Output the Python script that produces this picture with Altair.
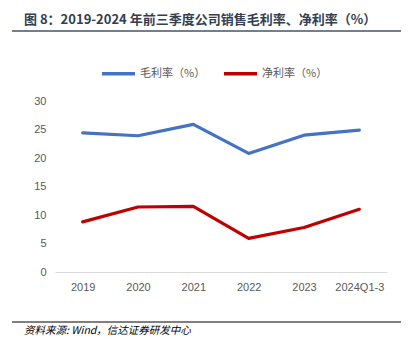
import altair as alt
import pandas as pd

years = ["2019", "2020", "2021", "2022", "2023", "2024Q1-3"]
gross_margin = [24.4, 23.9, 25.9, 20.8, 24.0, 24.9]
net_margin = [8.8, 11.4, 11.5, 5.9, 7.8, 11.0]
series_names = ["毛利率（%）", "净利率（%）"]
series_colors = ["#4472C4", "#C00000"]
y_ticks = [0, 5, 10, 15, 20, 25, 30]
title_text = "图 8：2019-2024 年前三季度公司销售毛利率、净利率（%）"
source_text = "资料来源: Wind，信达证券研发中心"

rows = []
for i, yr in enumerate(years):
    rows.append({"year": yr, "series": series_names[0], "value": gross_margin[i]})
    rows.append({"year": yr, "series": series_names[1], "value": net_margin[i]})
df = pd.DataFrame(rows)

FONT = "Liberation Sans, Noto Sans CJK SC, sans-serif"
CJK = "Noto Sans CJK SC, sans-serif"

lines = alt.Chart(df).mark_line(strokeWidth=3.2, strokeCap="round", strokeJoin="round").encode(
    x=alt.X("year:N", sort=years, title=None,
            axis=alt.Axis(labelAngle=0, ticks=False, grid=False, domainColor="#d9d9d9",
                          domainWidth=1, labelColor="#595959", labelFontSize=11,
                          labelPadding=9, labelFont=FONT)),
    y=alt.Y("value:Q", title=None,
            scale=alt.Scale(domain=[0, 30], nice=False),
            axis=alt.Axis(values=y_ticks, domain=False, ticks=False, grid=False,
                          labelColor="#595959", labelFontSize=11, labelPadding=9,
                          labelFont=FONT)),
    color=alt.Color("series:N", sort=series_names,
                    scale=alt.Scale(domain=series_names, range=series_colors),
                    legend=alt.Legend(title=None, orient="none", legendX=45, legendY=-46,
                                      direction="horizontal", symbolType="stroke",
                                      symbolStrokeWidth=3.5, symbolSize=1089,
                                      labelFont=CJK, labelFontSize=11, labelColor="#595959",
                                      labelOffset=3, columnPadding=11)),
)

one = pd.DataFrame({"t": [title_text]})
title = alt.Chart(one).mark_text(align="left", baseline="middle", fontSize=13,
                                 fontWeight="bold", font=CJK, color="#333F50").encode(
    text="t:N", x=alt.value(-31), y=alt.value(-81))
title_rule = alt.Chart(one).mark_rule(color="#44546A", strokeWidth=1.5).encode(
    x=alt.value(-43), x2=alt.value(350), y=alt.value(-70))

src = pd.DataFrame({"t": [source_text]})
foot_rule = alt.Chart(src).mark_rule(color="#000000", strokeWidth=1).encode(
    x=alt.value(-43), x2=alt.value(350), y=alt.value(221))
source = alt.Chart(src).mark_text(align="left", baseline="middle", fontSize=10.5,
                                  fontStyle="italic", font=CJK, color="#000000").encode(
    text="t:N", x=alt.value(-31), y=alt.value(230))

chart = alt.layer(lines, title, title_rule, foot_rule, source).properties(
    width=332, height=171,
    autosize=alt.AutoSizeParams(type="none"),
    padding={"left": 47, "top": 93, "right": 14, "bottom": 70},
    background="white",
).configure_view(stroke=None)

chart.save("out.html", embed_options={"renderer": "svg", "actions": False})
